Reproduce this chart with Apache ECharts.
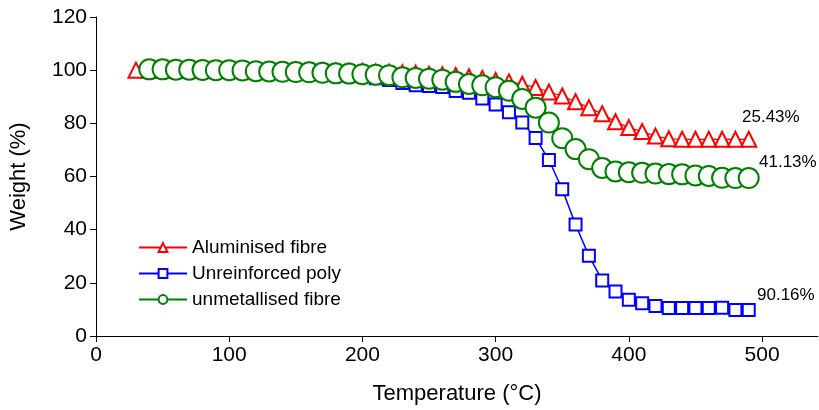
<!DOCTYPE html>
<html>
<head>
<meta charset="utf-8">
<script src="https://cdn.jsdelivr.net/npm/echarts@6/dist/echarts.min.js"></script>
<style>html,body{margin:0;padding:0;background:#fff;}#chart{width:819px;height:410px;}</style>
</head>
<body>
<div id="chart"></div>
<script>
const temps = [30,40,50,60,70,80,90,100,110,120,130,140,150,160,170,180,190,200,210,220,230,240,250,260,270,280,290,300,310,320,330,340,350,360,370,380,390,400,410,420,430,440,450,460,470,480,490];
const aluminised = [100,100,100,100,100,100,100,100,100,100,99.9,99.9,99.8,99.8,99.7,99.6,99.5,99.5,99.3,99.2,99.0,98.9,98.5,98.3,98.0,97.5,96.9,96.1,95.6,94.7,93.5,91.8,90.3,88.1,85.9,83.6,80.6,78.4,76.9,75.2,74.2,74.0,74.0,74.0,74.0,74.0,74.0];
const polyTemps = [40,50,60,70,80,90,100,110,120,130,140,150,160,170,180,190,200,210,220,230,240,250,260,270,280,290,300,310,320,330,340,350,360,370,380,390,400,410,420,430,440,450,460,470,480,490];
const unreinforced = [100,100,100,100,100,99.9,99.9,99.8,99.7,99.6,99.5,99.4,99.2,99.0,98.8,98.5,97.8,97.0,96.3,95.2,94.3,94.0,93.7,92.2,91.5,89.3,87.1,84.2,80.3,74.5,66.2,55.2,41.9,30.2,20.9,16.7,13.6,12.3,11.3,10.5,10.5,10.5,10.5,10.6,9.8,9.8];
const unmetallisedTemps = [40,50,60,70,80,90,100,110,120,130,140,150,160,170,180,190,200,210,220,230,240,250,260,270,280,290,300,310,320,330,340,350,360,370,380,390,400,410,420,430,440,450,460,470,480,490];
const unmetallised = [100.3,100.3,100.2,100.2,100.1,100,100,99.9,99.6,99.5,99.4,99.3,99.2,99.0,98.8,98.7,98.5,98.3,98.1,97.3,97.1,96.8,96.4,95.6,94.8,94.3,93.6,92.3,89.2,85.9,80.3,74.4,70.3,66.5,63.2,61.9,61.6,61.4,61.1,60.9,60.8,60.4,60.2,59.5,59.4,59.4];
const seriesNames = ['Aluminised fibre','Unreinforced poly','unmetallised fibre'];
const endLabels = ['25.43%','41.13%','90.16%'];
const xTicks = [0,100,200,300,400,500];

const font = 'Liberation Sans, Arial, Helvetica, sans-serif';
const pair = (xs, ys) => xs.map((x, i) => [x, ys[i]]);

const chart = echarts.init(document.getElementById('chart'));
chart.setOption({
  animation: false,
  backgroundColor: '#fff',
  grid: {left: 96, right: 1, top: 17, bottom: 72},
  xAxis: {
    type: 'value', min: 0, max: 542, interval: 100,
    name: 'Temperature (°C)', nameLocation: 'middle', nameGap: 47,
    nameTextStyle: {fontFamily: font, fontSize: 22, color: '#000'},
    axisLine: {show: true, onZero: false, lineStyle: {color: '#000', width: 1}},
    axisTick: {show: true, length: 6, customValues: xTicks, lineStyle: {color: '#000'}},
    axisLabel: {customValues: xTicks, margin: 9, fontFamily: font, fontSize: 21, color: '#000'},
    splitLine: {show: false}
  },
  yAxis: {
    type: 'value', min: 0, max: 120, interval: 20,
    name: 'Weight (%)', nameLocation: 'middle', nameGap: 66,
    nameTextStyle: {fontFamily: font, fontSize: 22, color: '#000'},
    axisLine: {show: true, lineStyle: {color: '#000', width: 1}},
    axisTick: {show: true, length: 6, lineStyle: {color: '#000'}},
    axisLabel: {margin: 9, fontFamily: font, fontSize: 21, color: '#000'},
    splitLine: {show: false}
  },
  legend: {
    left: 133, top: 233, orient: 'vertical',
    itemWidth: 48, itemHeight: 11, itemGap: 7,
    textStyle: {fontFamily: font, fontSize: 19, color: '#000'},
    data: seriesNames
  },
  series: [
    {
      name: seriesNames[0], type: 'line', data: pair(temps, aluminised),
      symbol: 'triangle', symbolSize: [15, 15],
      lineStyle: {color: '#ff0000', width: 1.2},
      itemStyle: {color: '#fff', borderColor: '#ff0000', borderWidth: 2},
      z: 2
    },
    {
      name: seriesNames[1], type: 'line', data: pair(polyTemps, unreinforced),
      symbol: 'rect', symbolSize: 12,
      lineStyle: {color: '#0000ff', width: 1.5},
      itemStyle: {color: '#fff', borderColor: '#0000ff', borderWidth: 2},
      z: 3
    },
    {
      name: seriesNames[2], type: 'line', data: pair(unmetallisedTemps, unmetallised),
      symbol: 'circle', symbolSize: 20,
      lineStyle: {color: '#008000', width: 1.5},
      itemStyle: {color: '#fff', borderColor: '#008000', borderWidth: 2},
      z: 4
    }
  ],
  graphic: [
    {type: 'text', left: 742, top: 109, style: {text: endLabels[0], font: '17px ' + font, fill: '#000'}},
    {type: 'text', left: 759, top: 154, style: {text: endLabels[1], font: '17px ' + font, fill: '#000'}},
    {type: 'text', left: 757, top: 287, style: {text: endLabels[2], font: '17px ' + font, fill: '#000'}}
  ]
});
</script>
</body>
</html>
